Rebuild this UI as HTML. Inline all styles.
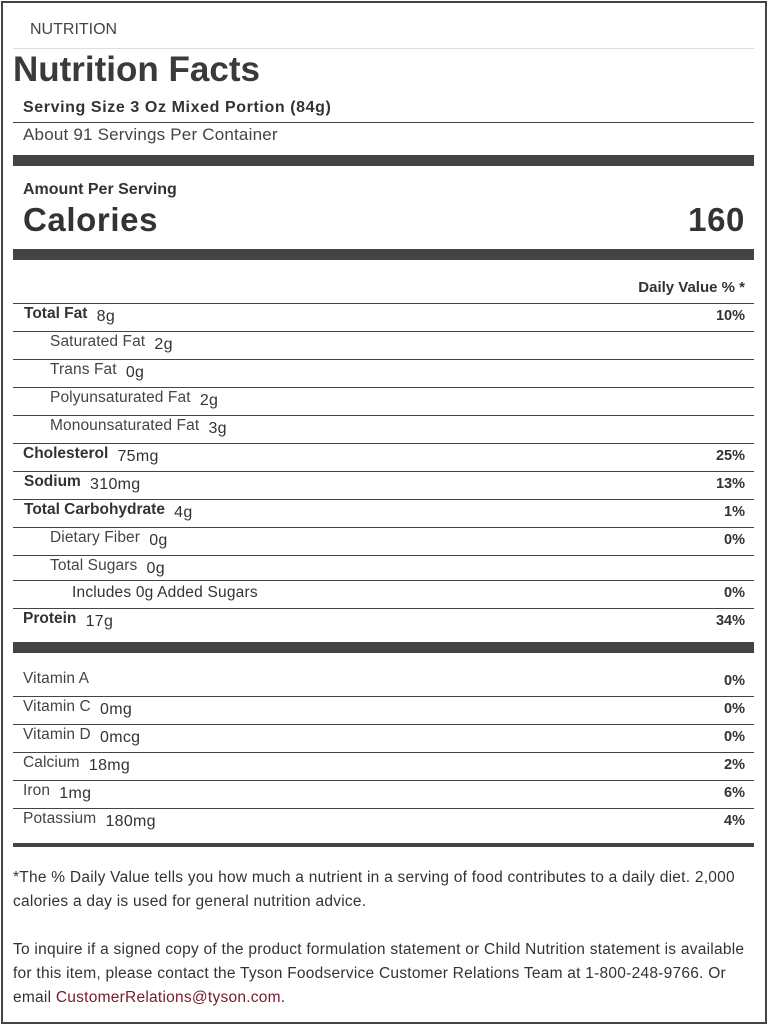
<!DOCTYPE html>
<html><head><meta charset="utf-8"><style>
*{margin:0;padding:0;box-sizing:border-box}
body{width:770px;height:1026px;background:#fff;position:relative;font-family:"Liberation Sans",sans-serif;color:#333;overflow:hidden}
.a{position:absolute;white-space:nowrap}
.frame{position:absolute;left:1px;top:1px;width:766px;height:1023px;border:2px solid #444}
.ln{position:absolute;left:13px;width:741px;height:1px;background:#444}
.bar{position:absolute;left:13px;width:741px;background:#444}
.n{font-size:15.5px;color:#444;letter-spacing:0.1px}
.nb{font-size:15.5px;font-weight:bold;color:#333}
.v{font-size:16px;color:#333;letter-spacing:0.3px}
.p{position:absolute;right:25px;font-size:14.5px;font-weight:bold;color:#333}
.f{position:absolute;left:13px;font-size:15.5px;letter-spacing:0.25px;line-height:24px;color:#333;width:735px}
</style></head><body>
<div class="frame"></div>
<div class="a" style="left:30px;top:21px;font-size:16px;color:#444">NUTRITION</div>
<div style="position:absolute;left:13px;top:48px;width:741px;height:1px;background:#ddd"></div>
<div class="a" style="left:13px;top:50px;font-size:35px;font-weight:bold;color:#3a3a3a">Nutrition Facts</div>
<div class="a" style="left:23px;top:99px;font-size:16px;letter-spacing:0.6px;font-weight:bold">Serving Size 3 Oz Mixed Portion (84g)</div>
<div class="ln" style="top:122px"></div>
<div class="a" style="left:23px;top:125px;font-size:17px;letter-spacing:0.2px;color:#444">About 91 Servings Per Container</div>
<div class="bar" style="top:155px;height:11px"></div>
<div class="a" style="left:23px;top:181px;font-size:16px;font-weight:bold">Amount Per Serving</div>
<div class="a" style="left:23px;top:201px;font-size:33px;letter-spacing:0.6px;font-weight:bold">Calories</div>
<div class="a" style="right:25px;top:201px;font-size:33px;letter-spacing:0.6px;font-weight:bold">160</div>
<div class="bar" style="top:249px;height:11px"></div>
<div class="a" style="right:25px;top:279px;font-size:15px;font-weight:bold">Daily Value % *</div>

<div class="ln" style="top:303px"></div>
<div class="a" style="left:24px;top:305px"><span class="nb">Total Fat</span> <span class="v" style="position:relative;top:3px">&nbsp;8g</span></div><div class="p" style="top:308px">10%</div>
<div class="ln" style="top:331px"></div>
<div class="a" style="left:50px;top:333px"><span class="n">Saturated Fat</span> <span class="v" style="position:relative;top:3px">&nbsp;2g</span></div>
<div class="ln" style="top:359px"></div>
<div class="a" style="left:50px;top:361px"><span class="n">Trans Fat</span> <span class="v" style="position:relative;top:3px">&nbsp;0g</span></div>
<div class="ln" style="top:387px"></div>
<div class="a" style="left:50px;top:389px"><span class="n">Polyunsaturated Fat</span> <span class="v" style="position:relative;top:3px">&nbsp;2g</span></div>
<div class="ln" style="top:415px"></div>
<div class="a" style="left:50px;top:417px"><span class="n">Monounsaturated Fat</span> <span class="v" style="position:relative;top:3px">&nbsp;3g</span></div>
<div class="ln" style="top:443px"></div>
<div class="a" style="left:23px;top:445px"><span class="nb">Cholesterol</span> <span class="v" style="position:relative;top:3px">&nbsp;75mg</span></div><div class="p" style="top:448px">25%</div>
<div class="ln" style="top:471px"></div>
<div class="a" style="left:24px;top:473px"><span class="nb">Sodium</span> <span class="v" style="position:relative;top:3px">&nbsp;310mg</span></div><div class="p" style="top:476px">13%</div>
<div class="ln" style="top:499px"></div>
<div class="a" style="left:24px;top:501px"><span class="nb">Total Carbohydrate</span> <span class="v" style="position:relative;top:3px">&nbsp;4g</span></div><div class="p" style="top:504px">1%</div>
<div class="ln" style="top:527px"></div>
<div class="a" style="left:50px;top:529px"><span class="n">Dietary Fiber</span> <span class="v" style="position:relative;top:3px">&nbsp;0g</span></div><div class="p" style="top:532px">0%</div>
<div class="ln" style="top:555px"></div>
<div class="a" style="left:50px;top:557px"><span class="n">Total Sugars</span> <span class="v" style="position:relative;top:3px">&nbsp;0g</span></div>
<div class="ln" style="top:580px"></div>
<div class="a" style="left:72px;top:584px;font-size:15.5px;letter-spacing:0.2px;color:#333">Includes 0g Added Sugars</div><div class="p" style="top:585px">0%</div>
<div class="ln" style="top:608px"></div>
<div class="a" style="left:23px;top:610px"><span class="nb">Protein</span> <span class="v" style="position:relative;top:3px">&nbsp;17g</span></div><div class="p" style="top:613px">34%</div>
<div class="bar" style="top:642px;height:11px"></div>

<div class="a" style="left:23px;top:670px"><span class="n">Vitamin A</span></div><div class="p" style="top:673px">0%</div>
<div class="ln" style="top:696px"></div>
<div class="a" style="left:23px;top:698px"><span class="n">Vitamin C</span> <span class="v" style="position:relative;top:3px">&nbsp;0mg</span></div><div class="p" style="top:701px">0%</div>
<div class="ln" style="top:724px"></div>
<div class="a" style="left:23px;top:726px"><span class="n">Vitamin D</span> <span class="v" style="position:relative;top:3px">&nbsp;0mcg</span></div><div class="p" style="top:729px">0%</div>
<div class="ln" style="top:752px"></div>
<div class="a" style="left:23px;top:754px"><span class="n">Calcium</span> <span class="v" style="position:relative;top:3px">&nbsp;18mg</span></div><div class="p" style="top:757px">2%</div>
<div class="ln" style="top:780px"></div>
<div class="a" style="left:23px;top:782px"><span class="n">Iron</span> <span class="v" style="position:relative;top:3px">&nbsp;1mg</span></div><div class="p" style="top:785px">6%</div>
<div class="ln" style="top:808px"></div>
<div class="a" style="left:23px;top:810px"><span class="n">Potassium</span> <span class="v" style="position:relative;top:3px">&nbsp;180mg</span></div><div class="p" style="top:813px">4%</div>
<div class="bar" style="top:843px;height:4px"></div>

<div class="f" style="top:866px">*The % Daily Value tells you how much a nutrient in a serving of food contributes to a daily diet. 2,000 calories a day is used for general nutrition advice.</div>
<div class="f" style="top:938px">To inquire if a signed copy of the product formulation statement or Child Nutrition statement is available for this item, please contact the Tyson Foodservice Customer Relations Team at 1-800-248-9766. Or email <span style="color:#7a1a2a">CustomerRelations@tyson.com</span>.</div>
</body></html>
